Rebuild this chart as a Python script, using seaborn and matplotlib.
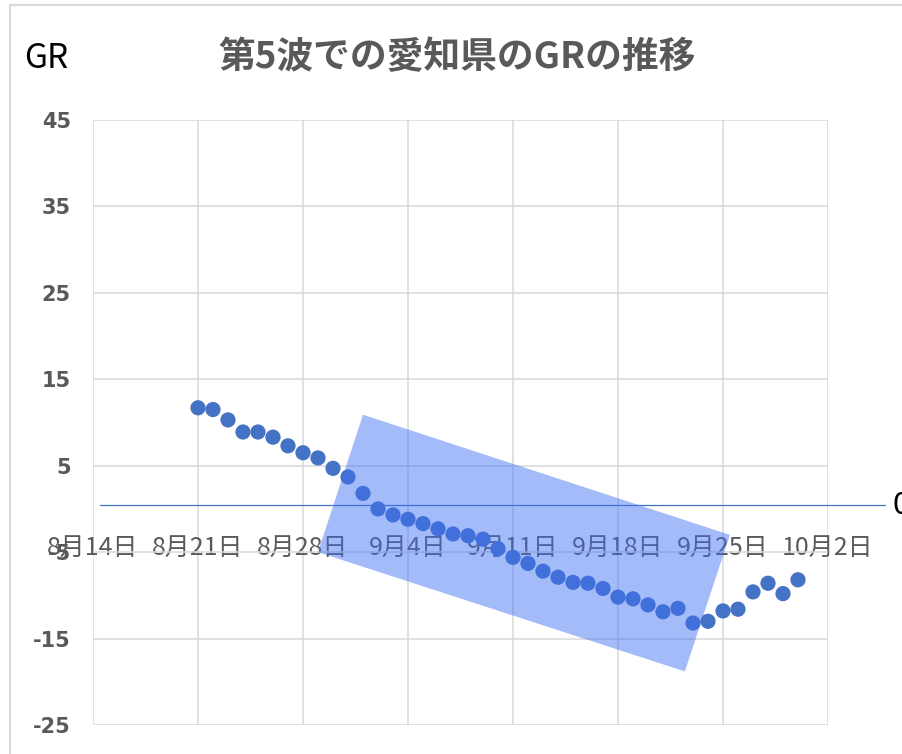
import matplotlib
matplotlib.use("Agg")
import matplotlib.pyplot as plt
import matplotlib.dates as mdates
from matplotlib.patches import Polygon, Rectangle
import matplotlib.transforms as mtrans
import seaborn as sns
import pandas as pd
import numpy as np

# ---- data ----
start_date = "2021-08-21"
gr_values = [11.7, 11.5, 10.3, 8.9, 8.9, 8.3, 7.3, 6.5, 5.9, 4.7, 3.7, 1.8, 0.0,
             -0.7, -1.2, -1.7, -2.3, -2.9, -3.1, -3.5, -4.6, -5.6, -6.3, -7.2,
             -7.9, -8.5, -8.6, -9.2, -10.2, -10.4, -11.1, -11.9, -11.5, -13.2, -13.0,
             -11.8, -11.6, -9.6, -8.6, -9.8, -8.2]
dates = pd.date_range(start_date, periods=len(gr_values), freq="D")

x_tick_dates = pd.date_range("2021-08-14", "2021-10-02", freq="7D")
x_tick_labels = ["8月14日", "8月21日", "8月28日", "9月4日", "9月11日", "9月18日", "9月25日", "10月2日"]
y_ticks = [-25, -15, -5, 5, 15, 25, 35, 45]

# highlight band corners (date, GR)
band_dates = ["2021-09-01 00:00", "2021-09-25 11:00", "2021-09-22 11:00", "2021-08-29 00:00"]
band_values = [10.9, -3.0, -18.8, -5.0]

zero_level = 0.45

title = "第5波での愛知県のGRの推移"
y_title = "GR"

# ---- plot ----
sns.set_theme(style="white")
plt.rcParams["font.family"] = ["Noto Sans CJK JP", "DejaVu Sans"]
plt.rcParams["axes.unicode_minus"] = False

fig = plt.figure(figsize=(9.02, 7.54), dpi=100)
ax = fig.add_axes([93/902, 1-725/754, (828-93)/902, (725-120)/754])

df = pd.DataFrame({"date": dates, "GR": gr_values})
sns.scatterplot(data=df, x="date", y="GR", ax=ax, s=120, color="#4472C4",
                edgecolor="none", linewidth=0, zorder=3)

ax.set_xlim(x_tick_dates[0], x_tick_dates[-1])
ax.set_ylim(-25, 45)
ax.set_xticks(x_tick_dates)
ax.set_xticklabels(x_tick_labels)
ax.set_yticks(y_ticks)
ax.set_xlabel("")
ax.set_ylabel("")

ax.grid(True, color="#d9d9d9", linewidth=1.1, zorder=0)
ax.set_axisbelow(True)
for s in ax.spines.values():
    s.set_visible(False)
ax.spines["bottom"].set_position(("data", -4.5))

ax.tick_params(axis="x", length=0, pad=0, labelsize=18, labelcolor="#595959")
ax.tick_params(axis="y", length=0, pad=16, labelsize=15, labelcolor="#595959")
for lbl in ax.get_xticklabels():
    lbl.set_verticalalignment("center")
for lbl in ax.get_yticklabels():
    lbl.set_fontweight("bold")
    lbl.set_family(["DejaVu Sans"])

# highlight band
pts = np.column_stack([mdates.date2num(pd.to_datetime(band_dates)), band_values])
poly = Polygon(pts, closed=True, facecolor="#3f6ff5", alpha=0.47, edgecolor="none", zorder=4)
ax.add_patch(poly)

# zero line
trans = mtrans.blended_transform_factory(ax.transAxes, ax.transData)
ax.plot([0.0095, 1.078], [zero_level, zero_level], transform=trans, color="#4472C4",
        linewidth=0.9, clip_on=False, zorder=2)
fig.text(892/902, 1-505/754, "0", fontsize=22, color="black", ha="left", va="center")

# titles
fig.text(457/902, 1-58/754, title, fontsize=26.5, fontweight="bold", color="#595959",
         ha="center", va="center")
fig.text(24/902, 1-58/754, y_title, fontsize=24, color="black", ha="left", va="center")

# outer chart border
fig.patches.append(Rectangle((10/902, -0.5), 2, 1.5 - 5/754, transform=fig.transFigure,
                             fill=False, edgecolor="#d9d9d9", linewidth=1.5))

fig.savefig("out.png", dpi=100)
